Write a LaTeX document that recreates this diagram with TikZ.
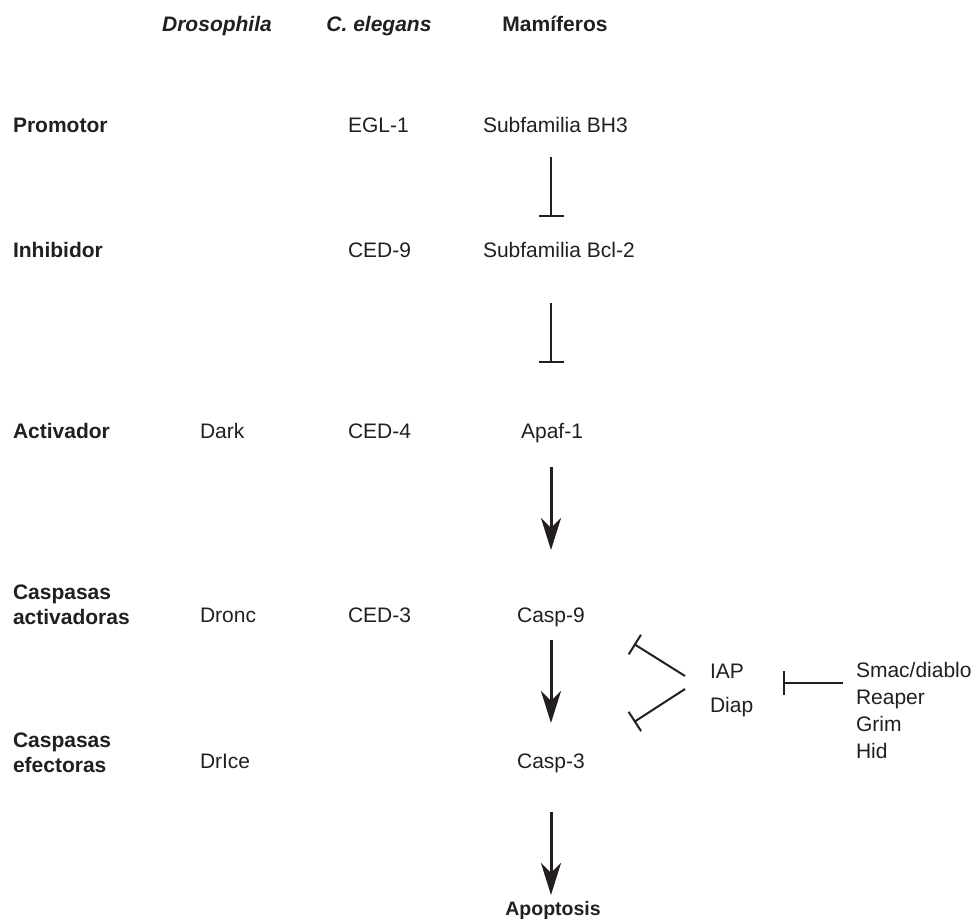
\documentclass[tikz,border=0pt]{standalone}
\usepackage{fontspec}
\setmainfont{Liberation Sans}
\usetikzlibrary{arrows.meta,calc}
\definecolor{ink}{HTML}{231F20}
\begin{document}
\begin{tikzpicture}[x=1pt,y=-1pt,
  every node/.style={inner sep=0pt, outer sep=0pt, text=ink, font=\fontsize{21}{25}\selectfont},
  lbl/.style={anchor=base west, align=left, font=\fontsize{21}{25}\selectfont\bfseries},
  hdr/.style={anchor=base, font=\fontsize{21}{25}\selectfont\bfseries\itshape},
  hdrb/.style={anchor=base, font=\fontsize{21}{25}\selectfont\bfseries},
  ent/.style={anchor=base west},
  entc/.style={anchor=base},
  act/.style={draw=ink, line width=3pt, -{Stealth[length=32pt,width=20pt,inset=10pt]}},
  inh/.style={draw=ink, line width=2pt, -{Bar[width=25pt]}},
  inhs/.style={draw=ink, line width=2pt, -{Bar[width=23pt]}}]
\useasboundingbox (0,0) rectangle (974,921);
% headers
\node[hdr] (hdro) at (217,31) {Drosophila};
\node[hdr] (hcel) at (379,31) {C. elegans};
\node[hdrb] (hmam) at (555,31) {Mamíferos};
% row labels (base anchor = last line)
\node[lbl] (lprom) at (13,132) {Promotor};
\node[lbl] (linh) at (13,257) {Inhibidor};
\node[lbl] (lact) at (13,438) {Activador};
\node[lbl] (lcact) at (13,624) {Caspasas\\activadoras};
\node[lbl] (lcef) at (13,772) {Caspasas\\efectoras};
% Drosophila
\node[ent] (dark) at (200,438) {Dark};
\node[ent] (dronc) at (200,622) {Dronc};
\node[ent] (drice) at (200,768) {DrIce};
% C. elegans
\node[ent] (egl) at (348,132) {EGL-1};
\node[ent] (ced9) at (348,257) {CED-9};
\node[ent] (ced4) at (348,438) {CED-4};
\node[ent] (ced3) at (348,622) {CED-3};
% Mammals
\node[ent] (bh3) at (483,132) {Subfamilia BH3};
\node[ent] (bcl2) at (483,257) {Subfamilia Bcl-2};
\node[entc] (apaf) at (552,438) {Apaf-1};
\node[entc] (casp9) at (551,622) {Casp-9};
\node[entc] (casp3) at (551,768) {Casp-3};
\node[anchor=base, font=\fontsize{19.5}{25}\selectfont\bfseries] (apop) at (553,915) {Apoptosis};
% IAP side
\node[ent, align=left, font=\fontsize{21}{34}\selectfont] (iap) at (710,712) {IAP\\Diap};
\node[ent, align=left, font=\fontsize{21}{26.7}\selectfont] (smac) at (856,758) {Smac/diablo\\Reaper\\Grim\\Hid};
% connectors
\coordinate (mx) at (551,0);
\draw[inh, shorten <=25pt, shorten >=40pt] (bh3.base -| mx) -- (bcl2.base -| mx);
\draw[inh, shorten <=46pt, shorten >=75pt] (bcl2.base -| mx) -- (apaf.base -| mx);
\draw[act, shorten <=29pt, shorten >=72pt] (apaf.base -| mx) -- (casp9.base -| mx);
\draw[act, shorten <=18pt, shorten >=45pt] (casp9.base -| mx) -- (casp3.base -| mx);
\draw[act, shorten <=44pt, shorten >=20pt] (casp3.base -| mx) -- (apop.base -| mx);
\coordinate (t9) at (634,644);
\coordinate (t3) at (634,722);
\coordinate (tI) at (783,683);
\draw[inhs] ($(iap.base west)+(-25,-36)$) -- (t9);
\draw[inhs] ($(iap.base west)+(-25,-23)$) -- (t3);
\draw[inh, -{Bar[width=24pt]}] ($(smac.base west)+(-13,-75)$) -- (tI);
\end{tikzpicture}
\end{document}
